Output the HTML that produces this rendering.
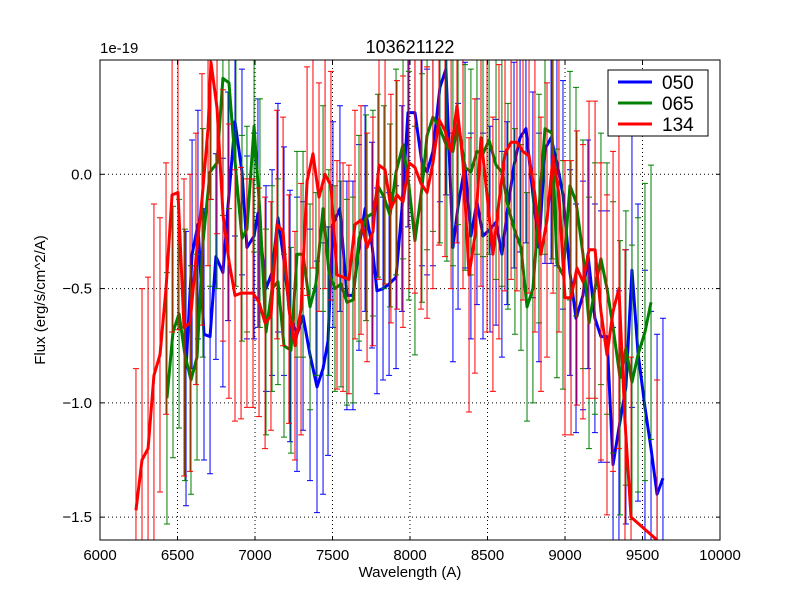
<!DOCTYPE html>
<html><head><meta charset="utf-8"><style>html,body{margin:0;padding:0;background:#fff;width:800px;height:600px;overflow:hidden}svg{display:block;font-family:"Liberation Sans",sans-serif}</style></head>
<body>
<svg id="chart" width="800" height="600" xmlns="http://www.w3.org/2000/svg">
<defs><clipPath id="clip"><rect x="100" y="60" width="620" height="480"/></clipPath></defs>
<rect x="0" y="0" width="800" height="600" fill="#fff"/>
<g id="grid"></g>
<g id="series" clip-path="url(#clip)"></g>
<rect x="100" y="60" width="620" height="480" fill="none" stroke="#000" stroke-width="1"/>
<g id="ticks"></g>
<text x="410" y="53" font-size="18" text-anchor="middle">103621122</text>
<text x="100" y="53" font-size="15">1e-19</text>
<text x="410" y="577" font-size="15" text-anchor="middle">Wavelength (A)</text>
<text x="45" y="300" font-size="15" text-anchor="middle" transform="rotate(-90 45 300)">Flux (erg/s/cm^2/A)</text>
<g>
<rect x="608" y="70" width="100" height="66" fill="#fff" stroke="#000" stroke-width="1"/>
<g><line x1="618" y1="82" x2="652" y2="82" stroke="#0000ff" stroke-width="3"/><text x="662" y="89" font-size="19">050</text></g>
<g><line x1="618" y1="103" x2="652" y2="103" stroke="#008000" stroke-width="3"/><text x="662" y="110" font-size="19">065</text></g>
<g><line x1="618" y1="124" x2="652" y2="124" stroke="#ff0000" stroke-width="3"/><text x="662" y="131" font-size="19">134</text></g>
</g>
</svg>
<script>
const xTicks=[6000,6500,7000,7500,8000,8500,9000,9500,10000];
const yTicks=[0.0,-0.5,-1.0,-1.5];
const yTickLabels=["0.0","\u22120.5","\u22121.0","\u22121.5"];
const blueWl=[6555,6594,6632,6671,6710,6748,6793,6826,6871,6916,6948,6994,7019,7071,7110,7148,7187,7226,7271,7310,7355,7400,7439,7471,7503,7548,7593,7632,7671,7710,7755,7787,7826,7865,7910,7948,7987,8032,8077,8110,8148,8193,8232,8277,8310,8355,8393,8432,8471,8516,8555,8593,8626,8671,8710,8748,8793,8832,8871,8910,8948,8987,9032,9071,9116,9148,9193,9232,9271,9310,9348,9393,9432,9471,9516,9555,9594,9632];
const blueFlux=[-0.85,-0.35,-0.22,-0.70,-0.71,-0.36,-0.43,-0.14,0.23,0.01,-0.32,-0.27,-0.17,-0.5,-0.43,-0.19,-0.38,-0.62,-0.7,-0.62,-0.79,-0.93,-0.85,-0.73,-0.22,-0.15,-0.53,-0.53,-0.32,-0.15,-0.31,-0.51,-0.5,-0.48,-0.45,-0.15,0.27,0.27,0.05,0.01,0.1,0.38,0.46,-0.32,-0.14,0.04,-0.27,-0.12,-0.27,-0.24,-0.21,-0.35,-0.17,0.04,0.16,0.2,-0.09,-0.32,0.11,0.16,0.05,-0.09,-0.43,-0.63,-0.53,-0.35,-0.63,-0.71,-0.71,-1.27,-1.11,-0.93,-0.42,-0.78,-1.02,-1.2,-1.4,-1.33];
const blueErr=[0.6,0.5,0.5,0.55,0.6,0.45,0.5,0.5,0.5,0.45,0.4,0.45,0.5,0.45,0.45,0.5,0.5,0.55,0.6,0.5,0.55,0.55,0.55,0.5,0.45,0.45,0.5,0.5,0.45,0.45,0.45,0.45,0.4,0.4,0.4,0.45,0.5,0.5,0.45,0.45,0.5,0.5,0.55,0.5,0.45,0.45,0.45,0.45,0.45,0.45,0.45,0.45,0.4,0.45,0.5,0.5,0.45,0.5,0.5,0.55,0.45,0.5,0.45,0.5,0.5,0.5,0.5,0.55,0.55,0.6,0.6,0.6,0.6,0.65,0.6,0.6,0.7,0.7];
const greenWl=[6432,6471,6510,6548,6587,6626,6664,6710,6755,6793,6832,6877,6916,6948,6994,7032,7071,7110,7148,7187,7232,7271,7310,7355,7393,7439,7477,7516,7555,7593,7632,7671,7716,7761,7793,7832,7871,7910,7955,7993,8032,8077,8110,8148,8193,8238,8277,8310,8355,8393,8432,8471,8510,8555,8593,8632,8677,8716,8755,8793,8832,8871,8916,8948,8987,9032,9071,9116,9155,9193,9232,9271,9310,9355,9393,9432,9471,9516,9555];
const greenFlux=[-0.98,-0.69,-0.61,-0.79,-0.9,-0.8,-0.3,0.01,0.05,0.42,0.4,0.01,-0.28,-0.24,0.21,-0.17,-0.69,-0.5,-0.47,-0.75,-0.77,-0.35,-0.35,-0.58,-0.48,-0.15,-0.43,-0.5,-0.48,-0.56,-0.55,-0.28,-0.19,-0.17,-0.05,-0.1,-0.18,0.01,0.13,-0.05,-0.29,-0.06,0.17,0.25,0.2,0.12,0.1,0.23,0.03,0.01,0.1,0.09,0.15,0.04,0.01,-0.14,-0.25,-0.32,-0.58,-0.5,-0.15,0.2,0.18,-0.39,-0.44,-0.05,-0.12,-0.35,-0.65,-0.5,-0.37,-0.5,-0.67,-0.89,-0.76,-0.91,-0.79,-0.69,-0.56];
const greenErr=[0.55,0.55,0.5,0.55,0.5,0.45,0.5,0.5,0.55,0.6,0.55,0.5,0.45,0.45,0.55,0.5,0.45,0.45,0.45,0.4,0.45,0.45,0.45,0.45,0.4,0.45,0.45,0.45,0.45,0.45,0.45,0.45,0.45,0.45,0.4,0.4,0.4,0.45,0.5,0.5,0.5,0.5,0.5,0.5,0.5,0.5,0.5,0.45,0.45,0.45,0.45,0.45,0.5,0.5,0.5,0.45,0.45,0.45,0.5,0.5,0.5,0.55,0.55,0.5,0.5,0.5,0.5,0.5,0.55,0.55,0.55,0.55,0.55,0.6,0.6,0.6,0.6,0.65,0.6];
const redWl=[6232,6271,6310,6348,6387,6426,6465,6503,6542,6581,6619,6658,6697,6716,6755,6794,6832,6871,6910,6948,6987,7026,7065,7103,7142,7181,7219,7258,7297,7336,7374,7413,7452,7490,7529,7568,7606,7645,7684,7723,7761,7800,7839,7877,7916,7955,7994,8032,8071,8110,8148,8187,8226,8265,8303,8342,8381,8419,8458,8497,8535,8574,8613,8652,8690,8729,8768,8806,8845,8884,8923,8961,9000,9039,9077,9116,9155,9194,9232,9271,9310,9348,9387,9426,9594];
const redFlux=[-1.47,-1.25,-1.2,-0.88,-0.79,-0.5,-0.09,-0.08,-0.67,-0.65,-0.37,-0.11,0.2,0.49,0.29,-0.18,-0.38,-0.53,-0.52,-0.52,-0.52,-0.56,-0.65,-0.62,-0.22,-0.25,-0.59,-0.75,-0.59,-0.03,0.09,-0.1,0.0,-0.05,-0.44,-0.45,-0.46,-0.22,-0.2,-0.32,-0.25,0.04,0.02,-0.15,-0.09,-0.12,0.05,0.03,-0.04,-0.08,0.05,0.24,0.19,0.1,0.3,0.05,-0.44,-0.27,0.16,-0.09,-0.35,-0.12,0.09,0.14,0.14,0.1,0.08,-0.09,-0.35,-0.2,0.08,-0.09,-0.54,-0.54,-0.41,-0.47,-0.33,-0.33,-0.6,-0.79,-0.6,-0.5,-1.08,-1.5,-1.6];
const redErr=[0.62,0.75,0.75,0.75,0.6,0.55,0.6,0.6,0.65,0.65,0.55,0.55,0.6,0.6,0.55,0.55,0.6,0.55,0.55,0.5,0.5,0.5,0.55,0.5,0.5,0.5,0.5,0.5,0.55,0.5,0.5,0.5,0.5,0.5,0.5,0.5,0.5,0.5,0.5,0.5,0.5,0.5,0.5,0.5,0.5,0.55,0.55,0.55,0.55,0.55,0.55,0.55,0.55,0.6,0.6,0.55,0.6,0.6,0.65,0.6,0.6,0.6,0.6,0.6,0.65,0.65,0.6,0.6,0.6,0.6,0.6,0.6,0.6,0.6,0.6,0.6,0.65,0.65,0.65,0.7,0.7,0.7,0.75,0.7,0.7];

const NS="http://www.w3.org/2000/svg";
const X0=100,X1=720,Y0=60,Y1=540,XMIN=6000,XMAX=10000,YMIN=-1.6,YMAX=0.5;
function sx(v){return X0+(v-XMIN)/(XMAX-XMIN)*(X1-X0);}
function sy(v){return Y1-(v-YMIN)/(YMAX-YMIN)*(Y1-Y0);}
function mk(tag,attrs,parent){const e=document.createElementNS(NS,tag);for(const k in attrs)e.setAttribute(k,attrs[k]);parent.appendChild(e);return e;}
const grid=document.getElementById('grid'),ticks=document.getElementById('ticks'),series=document.getElementById('series');
xTicks.forEach(t=>{
  const x=sx(t);
  if(t>XMIN&&t<XMAX){const g=mk('line',{x1:x,y1:Y0,x2:x,y2:Y1,stroke:'#000','stroke-width':1,'stroke-dasharray':'1,3'},grid);
  
  }
  mk('line',{x1:x,y1:Y1,x2:x,y2:Y1-4,stroke:'#000'},ticks);
  mk('line',{x1:x,y1:Y0,x2:x,y2:Y0+4,stroke:'#000'},ticks);
  const l=mk('text',{x:x,y:Y1+20,'font-size':15,'text-anchor':'middle'},ticks);l.textContent=t;
  
  
});
yTicks.forEach((t,i)=>{
  const y=sy(t);
  const g=mk('line',{x1:X0,y1:y,x2:X1,y2:y,stroke:'#000','stroke-width':1,'stroke-dasharray':'1,3'},grid);
  
  
  mk('line',{x1:X0,y1:y,x2:X0+4,y2:y,stroke:'#000'},ticks);
  mk('line',{x1:X1,y1:y,x2:X1-4,y2:y,stroke:'#000'},ticks);
  const l=mk('text',{x:X0-8,y:y+5,'font-size':15,'text-anchor':'end'},ticks);l.textContent=yTickLabels[i];
  
  
});
function clampY(y){return Math.max(Y0-5,Math.min(Y1+5,y));}
function drawSeries(wl,fl,er,color,name){
  const g=mk('g',{},series);
  
  
  wl.forEach((w,i)=>{
    const x=sx(w),ya=clampY(sy(fl[i]+er[i])),yb=clampY(sy(fl[i]-er[i]));
    const b=mk('path',{d:`M${x},${ya}V${yb}M${x-3},${ya}h6M${x-3},${yb}h6`,stroke:color,'stroke-width':1,fill:'none'},g);
    
    
  });
  const p=mk('polyline',{points:wl.map((w,i)=>sx(w)+','+clampY(sy(fl[i]))).join(' '),fill:'none',stroke:color,'stroke-width':3,'stroke-linejoin':'round'},g);
  
  
}
drawSeries(blueWl,blueFlux,blueErr,'#0000ff','050');
drawSeries(greenWl,greenFlux,greenErr,'#008000','065');
drawSeries(redWl,redFlux,redErr,'#ff0000','134');
</script>
</body></html>
